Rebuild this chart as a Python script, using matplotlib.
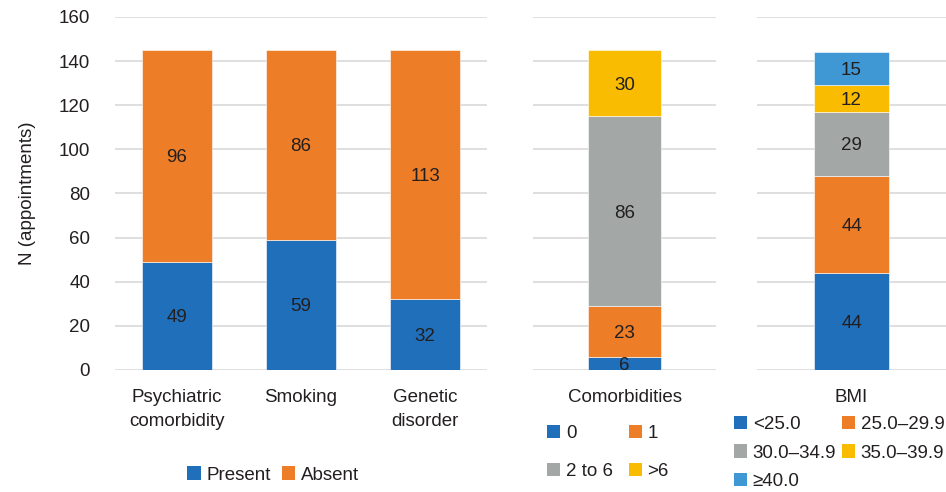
import matplotlib
matplotlib.use("Agg")
import matplotlib.pyplot as plt
from matplotlib.patches import Patch

plt.rcParams['font.family'] = ['Liberation Sans', 'DejaVu Sans']
FS = 13.5
plt.rcParams['font.size'] = FS

# ---- data ----
factor_categories = ["Psychiatric\ncomorbidity", "Smoking", "Genetic\ndisorder"]
present = [49, 59, 32]
absent = [96, 86, 113]

comorb_category = ["Comorbidities"]
comorb_labels = ["0", "1", "2 to 6", ">6"]
comorb_values = [6, 23, 86, 30]

bmi_category = ["BMI"]
bmi_labels = ["<25.0", "25.0\u201329.9", "30.0\u201334.9", "35.0\u201339.9", "\u226540.0"]
bmi_values = [44, 44, 29, 12, 15]

y_ticks = [0, 20, 40, 60, 80, 100, 120, 140, 160]

# ---- style ----
BLUE = "#1f6fba"
ORANGE = "#ee7d27"
GRAY = "#a3a7a6"
YELLOW = "#f9bc00"
LBLUE = "#3f97d4"
TXT = "#231f20"
GRID = "#d9d9d9"
colors5 = [BLUE, ORANGE, GRAY, YELLOW, LBLUE]

W, H = 946, 492
fig = plt.figure(figsize=(W / 100, H / 100), dpi=100)

def px_axes(x0, x1, ytop=17, ybot=370):
    return fig.add_axes([x0 / W, (H - ybot) / H, (x1 - x0) / W, (ybot - ytop) / H])

def style(ax, show_y):
    ax.set_ylim(0, 160)
    ax.set_yticks(y_ticks)
    ax.yaxis.grid(True, color=GRID, linewidth=1.2)
    ax.set_axisbelow(True)
    for s in ax.spines.values():
        s.set_visible(False)
    ax.tick_params(axis='both', length=0, colors=TXT, labelsize=FS)
    ax.tick_params(axis='x', pad=14)
    ax.tick_params(axis='y', pad=18)
    if not show_y:
        ax.tick_params(axis='y', labelleft=False)

edge = dict(edgecolor="#ffffff", linewidth=0.4)
lbl = dict(ha='center', va='center_baseline', color=TXT, fontsize=FS)

# panel 1
ax1 = px_axes(115, 487)
style(ax1, True)
x = range(len(factor_categories))
ax1.bar(x, present, width=0.565, color=BLUE, **edge)
ax1.bar(x, absent, width=0.565, bottom=present, color=ORANGE, **edge)
for i in x:
    ax1.text(i, present[i] / 2, str(present[i]), **lbl)
    ax1.text(i, present[i] + absent[i] / 2, str(absent[i]), **lbl)
ax1.set_xlim(-0.5, 2.5)
ax1.set_xticks(list(x))
ax1.set_xticklabels(factor_categories, va='top', linespacing=1.5)
ax1.set_ylabel("N (appointments)", color=TXT, fontsize=FS, labelpad=16)

# panel 2
ax2 = px_axes(533, 716)
style(ax2, False)
bottom = 0
for v, c in zip(comorb_values, colors5):
    ax2.bar([0], [v], bottom=bottom, width=0.395, color=c, **edge)
    ax2.text(0, bottom + v / 2, str(v), **lbl)
    bottom += v
ax2.set_xlim(-0.5, 0.5)
ax2.set_xticks([0])
ax2.set_xticklabels(comorb_category)

# panel 3
ax3 = px_axes(757, 946)
style(ax3, False)
bottom = 0
for v, c in zip(bmi_values, colors5):
    ax3.bar([0], [v], bottom=bottom, width=0.40, color=c, **edge)
    ax3.text(0, bottom + v / 2, str(v), **lbl)
    bottom += v
ax3.set_xlim(-0.5, 0.5)
ax3.set_xticks([0])
ax3.set_xticklabels(bmi_category)

# legends (row-major ordering for 2 columns)
def handles(labels, cols):
    hs = [Patch(facecolor=c, edgecolor='none', label=l) for l, c in zip(labels, cols)]
    return hs[0::2] + hs[1::2]

common = dict(frameon=False, handlelength=0.7, handleheight=0.7, handletextpad=0.3,
              fontsize=FS, labelcolor=TXT, borderpad=0, borderaxespad=0)

fig.legend(handles=[Patch(facecolor=BLUE, edgecolor='none', label="Present"),
                    Patch(facecolor=ORANGE, edgecolor='none', label="Absent")], ncol=2,
           loc='center', bbox_to_anchor=(273 / W, (H - 475) / H), columnspacing=0.6, **common)

fig.legend(handles=handles(comorb_labels, colors5[:4]), ncol=2,
           loc='upper left', bbox_to_anchor=(547 / W, (H - 425) / H),
           columnspacing=0.85, labelspacing=1.1, **common)

fig.legend(handles=handles(bmi_labels, colors5), ncol=2,
           loc='upper left', bbox_to_anchor=(734 / W, (H - 416) / H),
           columnspacing=0.3, labelspacing=0.6, **common)

fig.savefig("out.png", dpi=100)
